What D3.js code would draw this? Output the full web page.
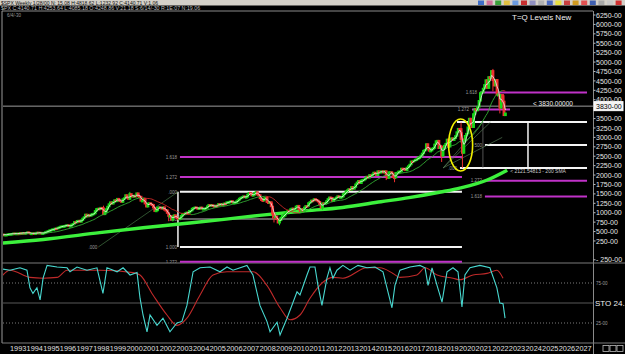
<!DOCTYPE html>
<html>
<head>
<meta charset="utf-8">
<title>$SPX Weekly - T=Q Levels New</title>
<script src="https://cdn.jsdelivr.net/npm/d3@7"></script>
<style>
  body { margin: 0; background: #000; overflow: hidden; }
  svg { display: block; }
  text { font-family: "Liberation Sans", Arial, sans-serif; }
</style>
</head>
<body>
<div id="chart"></div>
<script>
var width = 625, height = 354;

// monthly closes from Jun 1992 to Oct 2022
var startYear = 1992, startMonth = 5;
var closes = [
  408, 424, 414, 418, 419, 431, 436,
  439, 443, 452, 440, 450, 451, 448, 463, 459, 468, 462, 466,
  482, 467, 446, 451, 457, 444, 458, 475, 463, 472, 454, 459,
  470, 487, 501, 515, 533, 545, 562, 562, 584, 582, 605, 616,
  636, 640, 646, 654, 669, 671, 640, 652, 687, 705, 757, 741,
  786, 791, 757, 801, 848, 885, 954, 899, 947, 915, 955, 970,
  980, 1049, 1102, 1112, 1091, 1134, 1121, 957, 1017, 1099, 1164, 1229,
  1280, 1238, 1286, 1335, 1302, 1373, 1329, 1320, 1283, 1363, 1389, 1469,
  1394, 1366, 1499, 1452, 1421, 1455, 1431, 1518, 1437, 1429, 1315, 1320,
  1366, 1240, 1160, 1249, 1256, 1224, 1211, 1134, 1041, 1060, 1139, 1148,
  1130, 1107, 1147, 1077, 1067, 990, 912, 916, 815, 886, 936, 880,
  856, 841, 848, 917, 964, 975, 990, 1008, 996, 1051, 1058, 1112,
  1131, 1145, 1126, 1107, 1121, 1141, 1102, 1104, 1115, 1130, 1174, 1212,
  1181, 1204, 1181, 1157, 1192, 1191, 1234, 1220, 1229, 1207, 1249, 1248,
  1280, 1281, 1295, 1311, 1270, 1270, 1277, 1304, 1336, 1378, 1401, 1418,
  1438, 1407, 1421, 1482, 1531, 1503, 1455, 1474, 1527, 1549, 1481, 1468,
  1379, 1331, 1323, 1386, 1400, 1280, 1267, 1283, 1166, 969, 896, 903,
  826, 735, 798, 873, 919, 919, 987, 1021, 1057, 1036, 1096, 1115,
  1074, 1104, 1169, 1187, 1089, 1031, 1102, 1049, 1141, 1183, 1181, 1258,
  1286, 1327, 1326, 1364, 1345, 1321, 1292, 1219, 1131, 1253, 1247, 1258,
  1312, 1366, 1408, 1398, 1310, 1362, 1379, 1407, 1441, 1412, 1416, 1426,
  1498, 1515, 1569, 1598, 1631, 1606, 1686, 1633, 1682, 1757, 1806, 1848,
  1783, 1859, 1872, 1884, 1924, 1960, 1931, 2003, 1972, 2018, 2068, 2059,
  1995, 2105, 2068, 2086, 2107, 2063, 2104, 1972, 1920, 2079, 2080, 2044,
  1940, 1932, 2060, 2065, 2097, 2099, 2174, 2171, 2168, 2126, 2199, 2239,
  2279, 2364, 2363, 2384, 2412, 2423, 2470, 2472, 2519, 2575, 2648, 2674,
  2824, 2714, 2641, 2648, 2705, 2718, 2816, 2902, 2914, 2712, 2760, 2507,
  2704, 2784, 2834, 2946, 2752, 2942, 2980, 2926, 2977, 3038, 3141, 3231,
  3226, 2954, 2585, 2912, 3044, 3100, 3271, 3500, 3363, 3270, 3622, 3756,
  3714, 3811, 3973, 4181, 4204, 4298, 4395, 4523, 4308, 4605, 4567, 4766,
  4516, 4374, 4530, 4132, 4132, 3785, 4130, 3955, 3586, 3640
];

// swing extremes (wicks) for some months
var wickDates = ["1998-08", "2000-03", "2002-07", "2002-10", "2007-10", "2008-10", "2008-11", "2009-03",
                 "2010-07", "2011-10", "2015-08", "2016-02", "2018-12", "2020-02", "2020-03", "2022-01", "2022-06", "2022-09"];
var wickHighs = [1187, 1553, 968, 900, 1576, 1265, 1007, 832, 1115, 1257, 2113, 1963, 2800, 3393, 3136, 4818, 4177, 4119];
var wickLows = [957, 1339, 775, 768, 1489, 839, 741, 667, 1011, 1075, 1867, 1810, 2347, 2855, 2192, 4223, 3637, 3585];

// 200 SMA (thick green)
var smaYears = [1992.4, 1995, 1998.4, 2001, 2003.2, 2006, 2008, 2010.5, 2013, 2015.3, 2017, 2018.9, 2020.1, 2021.7, 2022.9];
var smaValues = [190, 290, 470, 600, 700, 830, 930, 1040, 1140, 1290, 1400, 1550, 1660, 1870, 2130];

// level lines
var levelValues = [2480, 1950, 1555, 835, 90, -305, 4190, 3740, 3410, 2795, 2190, 1850, 1430];
var levelFrom = [2003.22, 2003.22, 2003.22, 2003.22, 2003.22, 2003.22, 2021.26, 2020.78, 2019.88, 2021.56, 2020.06, 2021.56, 2021.56];
var levelTo = [2020.18, 2020.18, 2020.18, 2020.18, 2020.18, 2020.18, 2027.7, 2023.07, 2027.7, 2027.7, 2027.7, 2027.7, 2027.7];
var levelKinds = ["ext", "ext", "box", "mid", "box", "ext", "ext", "ext", "box", "box", "box", "ext", "ext"];
var levelLabels = ["1.618", "1.272", ".000", ".500", "1.000", "1.272", "1.618", "1.272", "", "500", ".000", "1.272", "1.618"];

var priceTicks = [6250, 6000, 5750, 5500, 5250, 5000, 4750, 4500, 4250, 4000, 3500, 3250, 3000, 2750,
                  2500, 2250, 2000, 1750, 1500, 1250, 1000, 750, 500, 250, -250];
var years = d3.range(1993, 2028);
var lastPrice = 3830;
var smaLast = 2121.54813;

// stochastic
var stoKYears = [1992.40, 1993.00, 1993.60, 1994.02, 1994.20, 1994.38, 1994.62, 1994.81, 1994.99, 1995.23, 1995.83,
  1996.43, 1996.61, 1997.03, 1997.63, 1998.23, 1998.59, 1998.83, 1999.44, 1999.80, 2000.22, 2000.64, 2000.82,
  2001.00, 2001.24, 2001.42, 2001.84, 2002.20, 2002.62, 2003.04, 2003.34, 2003.64, 2004.01, 2004.43, 2005.03,
  2005.63, 2006.05, 2006.41, 2007.25, 2007.61, 2008.03, 2008.45, 2008.64, 2009.06, 2009.24, 2009.66, 2010.26,
  2010.44, 2010.86, 2011.04, 2011.34, 2011.52, 2011.76, 2012.06, 2012.24, 2012.42, 2012.66, 2013.02, 2013.45,
  2013.93, 2014.47, 2014.95, 2015.43, 2015.73, 2015.97, 2016.15, 2016.45, 2017.05, 2017.65, 2017.96, 2018.14,
  2018.38, 2018.68, 2018.98, 2019.28, 2019.64, 2019.94, 2020.18, 2020.36, 2020.66, 2021.26, 2021.86, 2022.28,
  2022.46, 2022.65, 2022.77];
var stoK = [93, 91, 94, 91, 69, 62, 69, 54, 81, 97, 95,
  94, 89, 95, 91, 94, 62, 94, 89, 94, 85, 88, 56,
  35, 14, 35, 22, 31, 14, 25, 27, 47, 89, 94, 95,
  89, 95, 91, 97, 85, 47, 27, 14, 26, 10, 31, 64,
  60, 85, 95, 95, 72, 47, 81, 94, 81, 91, 97, 91,
  97, 94, 95, 89, 64, 44, 72, 91, 95, 97, 94, 72,
  94, 72, 51, 89, 94, 89, 45, 85, 94, 97, 94, 69,
  50, 49, 31];
var stoDYears = [1992.40, 1993.00, 1994.20, 1994.99, 1995.83, 1996.43, 1998.41, 2000.40, 2000.82, 2001.60, 2002.44,
  2003.04, 2003.64, 2004.43, 2005.21, 2006.05, 2007.61, 2008.45, 2009.24, 2009.84, 2010.44, 2011.04, 2011.82,
  2012.42, 2013.02, 2014.47, 2015.25, 2016.03, 2016.45, 2017.47, 2017.96, 2018.68, 2019.64, 2020.06, 2020.84,
  2021.68, 2022.28, 2022.65];
var stoD = [81, 91, 82, 81, 82, 91, 91, 88, 85, 60, 35,
  22, 31, 60, 85, 89, 89, 72, 44, 29, 35, 56, 76,
  82, 81, 94, 94, 87, 82, 85, 94, 85, 81, 79, 85,
  87, 91, 81];
var stoLast = 24;

var toolbarColors = ["#3f6fc8", "#d0709a", "#3aa03a", "#e0c040", "#6a9ae0", "#c83030", "#9090c0", "#b0b0b0",
                     "#4a6ac0", "#e8e040", "#c84040", "#d09a20", "#e05050", "#3f5fb0", "#a8a8a8", "#c8c8c8", "#d03030"];

// ---------------------------------------------------------------
var x = d3.scaleLinear().domain([1993, 2028]).range([10, 592]);
var y = d3.scaleLinear().domain([-250, 6250]).range([259.8, 15]);
var yS = d3.scaleLinear().domain([0, 100]).range([343, 263]);

var svg = d3.select("#chart").append("svg")
  .attr("width", width)
  .attr("height", height)
  .style("background", "#000");

svg.append("clipPath").attr("id", "clipMain")
  .append("rect").attr("x", 3).attr("y", 11).attr("width", 590).attr("height", 252);
svg.append("clipPath").attr("id", "clipSto")
  .append("rect").attr("x", 3).attr("y", 263).attr("width", 590).attr("height", 80);

// title bar + info row
svg.append("rect").attr("x", 0).attr("y", 0).attr("width", width).attr("height", 5.5).attr("fill", "#d4d0c8");
svg.append("text").attr("x", 1).attr("y", 4.6).attr("font-size", 5).attr("fill", "#111")
  .text("$SPX Weekly 1/28/00 N: 15.08 H:4818.62 L:1232.92 C:4140.71 V:1.06");
svg.selectAll(".tb").data(toolbarColors).enter().append("rect")
  .attr("x", function(d, i) { return 478 + i * 8.6; })
  .attr("y", 0.5).attr("width", 6).attr("height", 4.5)
  .attr("fill", function(d) { return d; });

svg.append("text").attr("x", 1).attr("y", 10).attr("font-size", 5.3).attr("fill", "#bdbdbd")
  .text("$PX C:4140.71 H:4253.64 L:4085.18 O:4248.86 V:21.18 S:6/14/-30 R:1E:07 N:19.06");
svg.append("line").attr("x1", 2).attr("x2", 593).attr("y1", 11).attr("y2", 11).attr("stroke", "#8a8a8a");
svg.append("text").attr("x", 7).attr("y", 16.5).attr("font-size", 4.5).attr("fill", "#9a9a9a").text("6/4/-30");

// panel frames
svg.append("line").attr("x1", 2).attr("x2", 2).attr("y1", 11).attr("y2", 343).attr("stroke", "#9a9a9a");
svg.append("line").attr("x1", 593.5).attr("x2", 593.5).attr("y1", 11).attr("y2", 354).attr("stroke", "#8a8a8a");
svg.append("line").attr("x1", 2).attr("x2", 625).attr("y1", 263).attr("y2", 263).attr("stroke", "#7a7a7a");
svg.append("line").attr("x1", 2).attr("x2", 625).attr("y1", 343).attr("y2", 343).attr("stroke", "#7a7a7a");

var main = svg.append("g").attr("clip-path", "url(#clipMain)");

// level lines
var levelColor = { ext: "#c032c8", box: "#f4f4f4", mid: "#808080" };
levelValues.forEach(function(v, i) {
  main.append("line")
    .attr("x1", x(levelFrom[i])).attr("x2", x(levelTo[i]))
    .attr("y1", y(v)).attr("y2", y(v))
    .attr("stroke", levelColor[levelKinds[i]])
    .attr("stroke-width", levelKinds[i] == "mid" ? 1.5 : 2);
  if (levelLabels[i]) {
    main.append("text")
      .attr("x", x(levelFrom[i]) - 3).attr("y", y(v) + 1.7)
      .attr("text-anchor", "end").attr("font-size", 4.5).attr("fill", "#9a9a9a")
      .text(levelLabels[i]);
  }
});

// box verticals
main.append("line").attr("x1", x(2003.10)).attr("x2", x(2003.10)).attr("y1", y(1555)).attr("y2", y(90))
  .attr("stroke", "#f4f4f4").attr("stroke-width", 1.5);
main.append("line").attr("x1", x(2024.15)).attr("x2", x(2024.15)).attr("y1", y(3410)).attr("y2", y(2190))
  .attr("stroke", "#f4f4f4").attr("stroke-width", 1.5);
main.append("line").attr("x1", x(2021.44)).attr("x2", x(2021.44)).attr("y1", y(3410)).attr("y2", y(2190))
  .attr("stroke", "#777").attr("stroke-width", 0.7);

// thin trend / fan lines
main.append("line").attr("x1", x(1998.31)).attr("y1", y(90)).attr("x2", x(2003.10)).attr("y2", y(1555))
  .attr("stroke", "#4f8a4f").attr("stroke-width", 0.6);
main.append("text").attr("x", x(1998.31) - 1).attr("y", y(90) + 1.7).attr("text-anchor", "end")
  .attr("font-size", 4.5).attr("fill", "#9a9a9a").text(".000");
var fanEnds = [[2021.44, 3410], [2021.9, 3410], [2022.6, 3000]];
fanEnds.forEach(function(p) {
  main.append("line").attr("x1", x(2019.05)).attr("y1", y(2190)).attr("x2", x(p[0])).attr("y2", y(p[1]))
    .attr("stroke", "#5f8a5f").attr("stroke-width", 0.6);
});

// current price line
main.append("line").attr("x1", 3).attr("x2", 593).attr("y1", y(lastPrice)).attr("y2", y(lastPrice))
  .attr("stroke", "#9c9c9c").attr("stroke-width", 1);

// 200 SMA thick green
var smaLine = d3.line().curve(d3.curveMonotoneX)
  .x(function(d) { return x(d[0]); }).y(function(d) { return y(d[1]); });
main.append("path").datum(d3.zip(smaYears, smaValues))
  .attr("d", smaLine).attr("fill", "none").attr("stroke", "#3cf03c").attr("stroke-width", 3.4);

// candles
var monthW = x(1993 + 1 / 12) - x(1993);
var candles = closes.map(function(c, i) {
  var m = startMonth + i;
  var yr = startYear + Math.floor(m / 12), mo = m % 12 + 1;
  return {
    t: startYear + m / 12,
    key: yr + "-" + (mo < 10 ? "0" : "") + mo,
    open: i == 0 ? c : closes[i - 1],
    close: c
  };
});
var wickIndex = {};
wickDates.forEach(function(k, i) { wickIndex[k] = i; });

candles.forEach(function(d) {
  var up = d.close >= d.open;
  var col = up ? "#18d818" : "#f03030";
  var cx = x(d.t + 1 / 24);
  if (wickIndex[d.key] !== undefined) {
    var wi = wickIndex[d.key];
    main.append("line").attr("x1", cx).attr("x2", cx)
      .attr("y1", y(wickHighs[wi])).attr("y2", y(wickLows[wi]))
      .attr("stroke", col).attr("stroke-width", 1);
  }
  var y0 = y(Math.max(d.open, d.close)), y1 = y(Math.min(d.open, d.close));
  main.append("rect")
    .attr("x", cx - monthW / 2).attr("width", monthW)
    .attr("y", y0).attr("height", Math.max(1, y1 - y0))
    .attr("fill", col).attr("stroke", col).attr("stroke-width", 1.5);
});

// moving averages of the closes
function sma(arr, n) {
  return arr.map(function(d, i) { return d3.mean(arr.slice(Math.max(0, i - n + 1), i + 1)); });
}
var fast = sma(closes, 3);
var slow = sma(closes, 20);
for (var i = 1; i < candles.length; i++) {
  var rising = slow[i] >= slow[i - 1];
  main.append("line")
    .attr("x1", x(candles[i - 1].t + 1 / 24)).attr("y1", y(slow[i - 1]))
    .attr("x2", x(candles[i].t + 1 / 24)).attr("y2", y(slow[i]))
    .attr("stroke", rising ? "#34b034" : "#d02828").attr("stroke-width", 0.9);
}
var maLine = d3.line()
  .x(function(d, i) { return x(candles[i].t + 1 / 24); })
  .y(function(d) { return y(d); });
main.append("path").datum(fast).attr("d", maLine)
  .attr("fill", "none").attr("stroke", "#eeeeee").attr("stroke-width", 0.8);

// yellow ellipse
main.append("ellipse").attr("cx", x(2020.1)).attr("cy", y(2800)).attr("rx", 12).attr("ry", 26)
  .attr("fill", "none").attr("stroke", "#f2f000").attr("stroke-width", 1.6);

// annotations
main.append("text").attr("x", 533).attr("y", y(lastPrice) - 0.5).attr("font-size", 6.5).attr("fill", "#f0f0f0")
  .text("< " + lastPrice.toFixed(5));
main.append("text").attr("x", x(2022.9) + 3).attr("y", y(2130) + 2.5).attr("font-size", 5).attr("fill", "#c8c8c8")
  .text("< " + smaLast + " - 200 SMA");
svg.append("text").attr("x", 512).attr("y", 20).attr("font-size", 8).attr("fill", "#f0f0f0").text("T=Q Levels New");

// right price axis
priceTicks.forEach(function(v) {
  svg.append("line").attr("x1", 593.5).attr("x2", 595.5).attr("y1", y(v)).attr("y2", y(v)).attr("stroke", "#bbb");
  svg.append("text").attr("x", 596).attr("y", y(v) + 2.6).attr("font-size", 7).attr("fill", "#e6e6e6")
    .text(v < 0 ? "- " + Math.abs(v) + "-00" : v + "-00");
});
svg.append("rect").attr("x", 594).attr("y", y(lastPrice) - 4.5).attr("width", 29).attr("height", 9)
  .attr("fill", "#f4f4f4").attr("stroke", "#fff");
svg.append("text").attr("x", 596).attr("y", y(lastPrice) + 2.6).attr("font-size", 7).attr("fill", "#000")
  .text(lastPrice + "-00");

// stochastic panel
var sto = svg.append("g").attr("clip-path", "url(#clipSto)");
[75, 25].forEach(function(v) {
  sto.append("line").attr("x1", 3).attr("x2", 593).attr("y1", yS(v)).attr("y2", yS(v))
    .attr("stroke", "#9a9a9a").attr("stroke-dasharray", "1,2").attr("stroke-width", 0.8);
});
sto.append("line").attr("x1", 3).attr("x2", 593).attr("y1", yS(50)).attr("y2", yS(50))
  .attr("stroke", "#6f6f6f").attr("stroke-width", 0.8);
var stoLine = d3.line().x(function(d) { return x(d[0]); }).y(function(d) { return yS(d[1]); });
sto.append("path").datum(d3.zip(stoDYears, stoD)).attr("d", stoLine.curve(d3.curveMonotoneX))
  .attr("fill", "none").attr("stroke", "#c02a2a").attr("stroke-width", 1.1);
sto.append("path").datum(d3.zip(stoKYears, stoK)).attr("d", stoLine.curve(d3.curveLinear))
  .attr("fill", "none").attr("stroke", "#48d8d0").attr("stroke-width", 1.1);
[75, 25].forEach(function(v) {
  svg.append("text").attr("x", 596).attr("y", yS(v) + 1.5).attr("font-size", 4.5).attr("fill", "#9a9a9a")
    .text(v + "-00");
});
svg.append("text").attr("x", 595).attr("y", yS(50) + 3).attr("font-size", 8).attr("fill", "#eeeeee")
  .text("STO  " + stoLast + ".");

// year axis
svg.selectAll(".yr").data(years).enter().append("text")
  .attr("x", function(d) { return x(d); })
  .attr("y", 350.5)
  .attr("font-size", 7)
  .attr("fill", "#e0e0e0")
  .attr("textLength", function(d) { return x(d + 1) - x(d) - 0.3; })
  .attr("lengthAdjust", "spacingAndGlyphs")
  .text(function(d) { return d; });

// little scroll boxes bottom right
[603, 610, 617].forEach(function(bx) {
  svg.append("rect").attr("x", bx).attr("y", 345.5).attr("width", 6).attr("height", 6)
    .attr("fill", "none").attr("stroke", "#bbb").attr("stroke-width", 0.8);
});
</script>
</body>
</html>
